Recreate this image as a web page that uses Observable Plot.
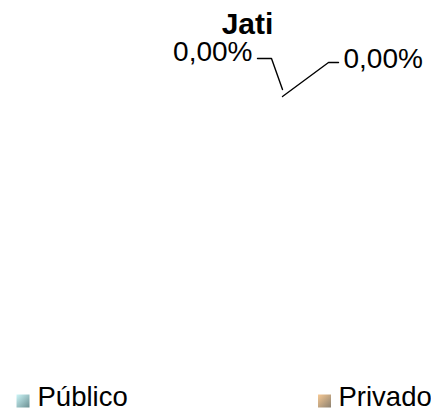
<!DOCTYPE html>
<html>
<head>
<meta charset="utf-8">
<script src="https://cdn.jsdelivr.net/npm/d3@7"></script>
<script src="https://cdn.jsdelivr.net/npm/@observablehq/plot@0.6"></script>
<style>
  html, body { margin: 0; padding: 0; background: #fff; }
  #chart { width: 431px; height: 411px; overflow: hidden; }
</style>
</head>
<body>
<div id="chart"></div>
<script>
// ---- data ----
const chartTitle = "Jati";
const categories = ["Público", "Privado"];
const values = [0, 0];
const gradientStops = [["#cdf6f8", "#6a8f92"], ["#f7c994", "#8c8170"]];

// ---- layout (pixels) ----
const W = 431, H = 411;
const pieTop = [282, 92];          // top point of the (empty) pie
const sum = d3.sum(values);
const pct = values.map(v => (sum ? v / sum * 100 : 0).toFixed(2).replace(".", ",") + "%");

const labels = [
  {text: pct[0], x: 252, y: 60, anchor: "end"},
  {text: pct[1], x: 343, y: 67, anchor: "start"}
];
const leaders = [
  [[257, 58], [271, 58], [pieTop[0], pieTop[1] - 3]],
  [[338, 62], [328, 62], [pieTop[0], pieTop[1] + 4]]
];
const leaderPts = leaders.flatMap((pts, i) => pts.map(([x, y]) => ({x, y, s: i})));

const legend = categories.map((c, i) => ({
  name: c, sx: i === 0 ? 16.5 : 318, tx: i === 0 ? 37 : 338, i
}));

const plot = Plot.plot({
  width: W, height: H,
  margin: 0,
  x: {domain: [0, W], range: [0, W], axis: null},
  y: {domain: [0, H], range: [0, H], axis: null},
  style: {fontFamily: "'Liberation Sans', Arial, sans-serif", background: "#fff"},
  marks: [
    Plot.text([chartTitle], {x: () => 247, y: () => 33, text: d => d, fontSize: 30, fontWeight: "bold", lineAnchor: "bottom", fill: "#000"}),
    Plot.line(leaderPts, {x: "x", y: "y", z: "s", stroke: "#000", strokeWidth: 1.4, curve: "linear"}),
    ...labels.map(l => Plot.text([l], {x: "x", y: "y", text: "text", textAnchor: l.anchor, fontSize: 28, lineAnchor: "bottom", fill: "#000"})),
    ...legend.map(l => Plot.rect([l], {x1: "sx", x2: d => d.sx + 13, y1: () => 394.5, y2: () => 407.5, fill: `url(#grad${l.i})`, stroke: "none"})),
    Plot.text(legend, {x: "tx", y: () => 405.5, text: "name", textAnchor: "start", fontSize: 27.5, lineAnchor: "bottom", fill: "#000"})
  ]
});

// gradients for the legend swatches
const svg = d3.select(plot);
const defs = svg.insert("defs", ":first-child");
gradientStops.forEach(([a, b], i) => {
  const g = defs.append("linearGradient").attr("id", "grad" + i)
    .attr("x1", "0").attr("y1", "0").attr("x2", "1").attr("y2", "1");
  g.append("stop").attr("offset", "0").attr("stop-color", a);
  g.append("stop").attr("offset", "1").attr("stop-color", b);
});

document.getElementById("chart").appendChild(plot);
</script>
</body>
</html>
